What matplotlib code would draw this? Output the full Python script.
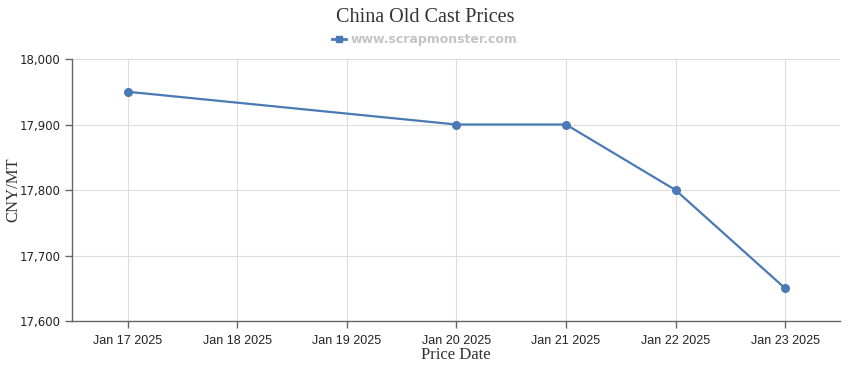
import matplotlib
matplotlib.use("Agg")
import matplotlib.pyplot as plt
from matplotlib.lines import Line2D

dates = ["Jan 17 2025", "Jan 18 2025", "Jan 19 2025", "Jan 20 2025",
         "Jan 21 2025", "Jan 22 2025", "Jan 23 2025"]
price_dates = ["Jan 17 2025", "Jan 20 2025", "Jan 21 2025", "Jan 22 2025", "Jan 23 2025"]
prices = [17950, 17900, 17900, 17800, 17650]
y_ticks = [17600, 17700, 17800, 17900, 18000]

line_color = "#4a7ab5"
grid_color = "#dddddd"
axis_color = "#666666"

fig = plt.figure(figsize=(8.5, 3.7), dpi=100)
ax = fig.add_axes([0.0847, 0.1324, 0.9033, 0.7081])

x = [dates.index(d) for d in price_dates]
ax.plot(x, prices, color=line_color, lw=1.6, marker="o", ms=5.5, zorder=3)

ax.set_xlim(-0.51, 6.5)
ax.set_ylim(17600, 18000)
ax.set_xticks(range(len(dates)))
ax.set_xticklabels(dates, family="Liberation Sans", fontsize=9)
ax.set_yticks(y_ticks)
ax.set_yticklabels([f"{v:,}" for v in y_ticks], family="DejaVu Sans", fontsize=8.5)

ax.grid(True, color=grid_color, lw=0.8)
ax.set_axisbelow(True)
for s in ["top", "right"]:
    ax.spines[s].set_visible(False)
for s in ["left", "bottom"]:
    ax.spines[s].set_color(axis_color)
    ax.spines[s].set_linewidth(1)
ax.tick_params(axis="both", colors=axis_color, length=5, width=1, labelcolor="#222222")
ax.tick_params(axis="x", pad=5)

ax.set_xlabel("Price Date", family="Liberation Serif", fontsize=12, color="#333333", labelpad=0)
ax.set_ylabel("CNY/MT", family="Liberation Serif", fontsize=12, color="#333333")
ax.yaxis.set_label_coords(-0.066, 0.5)

fig.text(0.5, 0.952, "China Old Cast Prices", ha="center", va="center",
         family="Liberation Serif", fontsize=14.5, color="#333333")

handle = Line2D([], [], color=line_color, lw=2, marker="s", ms=5)
leg = fig.legend([handle], ["www.scrapmonster.com"], loc="center", bbox_to_anchor=(0.5, 0.892),
                 frameon=False, handlelength=1.1, handletextpad=0.4,
                 prop={"family": "DejaVu Sans", "weight": "bold", "size": 9})
for t in leg.get_texts():
    t.set_color("#c4c4c4")

fig.savefig("out.png", dpi=100)
